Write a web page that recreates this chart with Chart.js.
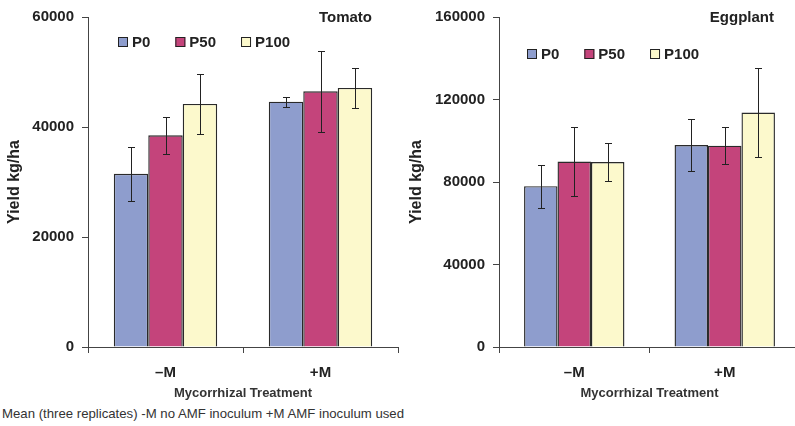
<!DOCTYPE html>
<html>
<head>
<meta charset="utf-8">
<script src="https://cdn.jsdelivr.net/npm/chart.js@4.4.1/dist/chart.umd.min.js"></script>
<style>
  html, body { margin: 0; padding: 0; background: #fff; }
  #wrap { position: relative; width: 795px; height: 426px; overflow: hidden; }
  #tomatoBox { position: absolute; left: 0; top: 0; width: 400px; height: 405px; }
  #eggBox { position: absolute; left: 400px; top: 0; width: 400px; height: 405px; }
  #note { position: absolute; left: 2px; top: 406px; font: 13.2px Arial, "Liberation Sans", sans-serif; color: #333; white-space: nowrap; }
</style>
</head>
<body>
<div id="wrap">
  <div id="tomatoBox"><canvas id="tomatoChart"></canvas></div>
  <div id="eggBox"><canvas id="eggChart"></canvas></div>
  <div id="note">Mean (three replicates) -M no AMF inoculum +M AMF inoculum used</div>
</div>
<script>
// categories and series
const categories = ['\u2013M', '+M'];
const seriesNames = ['P0', 'P50', 'P100'];
const seriesColors = ['#8e9dcd', '#c4447b', '#fcf9cc'];

// Tomato yield (kg/ha) and error
const tomatoP0 = [31500, 44600];
const tomatoP50 = [38500, 46500];
const tomatoP100 = [44200, 47100];
const tomatoP0Err = [4900, 900];
const tomatoP50Err = [3400, 7400];
const tomatoP100Err = [5400, 3600];
const tomatoTicks = [0, 20000, 40000, 60000];

// Eggplant yield (kg/ha) and error
const eggP0 = [78000, 97900];
const eggP50 = [89900, 97600];
const eggP100 = [89700, 113700];
const eggP0Err = [10400, 12800];
const eggP50Err = [16600, 8900];
const eggP100Err = [9000, 21800];
const eggTicks = [0, 40000, 80000, 120000, 160000];

const FONT = 'Arial, "Liberation Sans", sans-serif';
const INK = '#222';

// error bars drawn from the y scale
const errorBars = {
    id: 'errorBars',
    afterDatasetsDraw(chart) {
        const ctx = chart.ctx;
        const y = chart.scales.y;
        ctx.save();
        ctx.strokeStyle = INK;
        ctx.lineWidth = 1;
        chart.data.datasets.forEach((ds, i) => {
            const meta = chart.getDatasetMeta(i);
            meta.data.forEach((bar, j) => {
                const v = ds.data[j], e = ds.errors[j];
                const x = Math.round(bar.x) + 0.5;
                const top = Math.round(y.getPixelForValue(v + e)) + 0.5;
                const bot = Math.round(y.getPixelForValue(v - e)) + 0.5;
                ctx.beginPath();
                ctx.moveTo(x, top); ctx.lineTo(x, bot);
                ctx.moveTo(x - 3.5, top); ctx.lineTo(x + 3.5, top);
                ctx.moveTo(x - 3.5, bot); ctx.lineTo(x + 3.5, bot);
                ctx.stroke();
            });
        });
        ctx.restore();
    }
};

// title and legend placed inside the plot area
const insideLabels = {
    id: 'insideLabels',
    afterDraw(chart, args, opts) {
        const ctx = chart.ctx;
        const area = chart.chartArea;
        ctx.save();
        ctx.font = 'bold 15px ' + FONT;
        ctx.fillStyle = INK;
        ctx.textBaseline = 'middle';
        ctx.textAlign = 'right';
        ctx.fillText(opts.title, area.right - 26, area.top + 0.5);
        ctx.textAlign = 'left';
        let x = opts.legendX;
        const ly = opts.legendY;
        chart.data.datasets.forEach(ds => {
            ctx.fillStyle = ds.backgroundColor;
            ctx.fillRect(x, ly - 5, 10, 10);
            ctx.strokeStyle = INK;
            ctx.lineWidth = 1;
            ctx.strokeRect(x + 0.5, ly - 4.5, 9, 9);
            ctx.fillStyle = INK;
            ctx.fillText(ds.label, x + 14, ly + 0.5);
            x += 14 + ctx.measureText(ds.label).width + 25;
        });
        ctx.restore();
    }
};

function makeChart(id, values, errors, ticks, title, yWidth, yTitleOffset, legendX, legendY, padRight) {
    const ctx = document.getElementById(id).getContext('2d');
    return new Chart(ctx, {
        type: 'bar',
        data: {
            labels: categories,
            datasets: seriesNames.map((name, i) => ({
                label: name,
                data: values[i],
                errors: errors[i],
                backgroundColor: seriesColors[i],
                borderColor: '#2a2a2a',
                borderWidth: 1.4,
                inflateAmount: 0,
                categoryPercentage: 0.667,
                barPercentage: 1
            }))
        },
        options: {
            responsive: true,
            maintainAspectRatio: false,
            animation: false,
            layout: { padding: { top: 16, right: padRight, bottom: 0, left: 0 } },
            plugins: {
                legend: { display: false },
                tooltip: { enabled: false },
                insideLabels: { title: title, legendX: legendX, legendY: legendY }
            },
            scales: {
                x: {
                    afterFit: s => { s.height = 58; },
                    grid: { drawOnChartArea: false, drawTicks: true, tickLength: 6, color: '#444' },
                    border: { color: '#444', width: 1 },
                    ticks: { color: INK, padding: 11, font: { family: FONT, size: 15, weight: 'bold' } },
                    title: {
                        display: true, text: 'Mycorrhizal Treatment', color: '#333',
                        font: { family: FONT, size: 13, weight: 'bold' },
                        padding: { top: 0, bottom: 4 }
                    }
                },
                y: {
                    min: 0,
                    max: ticks[ticks.length - 1],
                    afterFit: s => { s.width = yWidth; },
                    afterBuildTicks: s => { s.ticks = ticks.map(v => ({ value: v })); },
                    grid: { drawOnChartArea: false, drawTicks: true, tickLength: 6, color: '#444' },
                    border: { color: '#444', width: 1 },
                    ticks: {
                        color: INK, padding: 8,
                        font: { family: FONT, size: 15, weight: 'bold' },
                        callback: v => String(v)
                    },
                    title: {
                        display: true, text: 'Yield kg/ha', color: INK,
                        font: { family: FONT, size: 16, weight: 'bold' },
                        padding: { top: yTitleOffset, bottom: 0 }
                    }
                }
            }
        },
        plugins: [errorBars, insideLabels]
    });
}

makeChart('tomatoChart',
    [tomatoP0, tomatoP50, tomatoP100],
    [tomatoP0Err, tomatoP50Err, tomatoP100Err],
    tomatoTicks, 'Tomato', 88, 5, 118, 42, 2);

makeChart('eggChart',
    [eggP0, eggP50, eggP100],
    [eggP0Err, eggP50Err, eggP100Err],
    eggTicks, 'Eggplant', 99, 7, 127, 54, 0);
</script>
</body>
</html>
